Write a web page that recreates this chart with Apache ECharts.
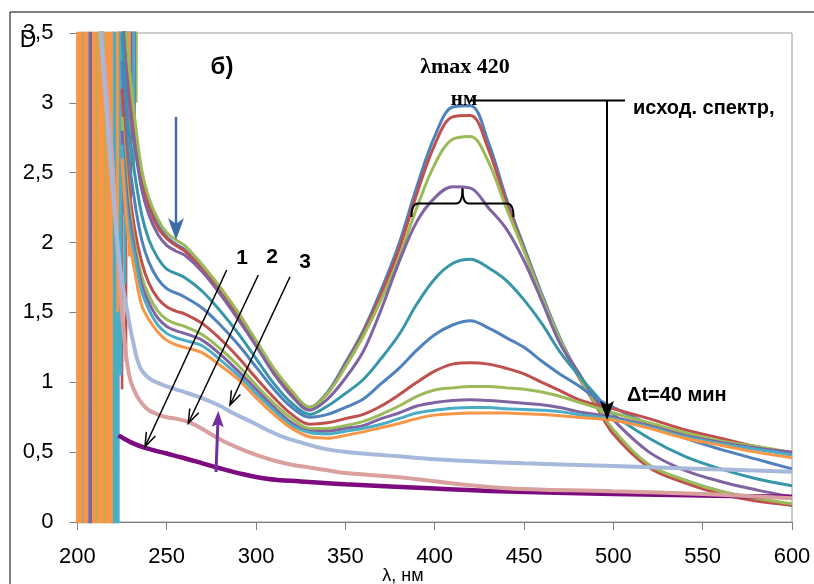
<!DOCTYPE html>
<html><head><meta charset="utf-8">
<script src="https://cdn.jsdelivr.net/npm/echarts@6.0.0/dist/echarts.min.js"></script>
<style>html,body{margin:0;padding:0;background:#fff}#c{width:814px;height:584px}</style>
</head><body><div id="c"></div>
<script>
// ---- data ----
const xTicks = [200, 250, 300, 350, 400, 450, 500, 550, 600];
const yTicks = [0, 0.5, 1, 1.5, 2, 2.5, 3, 3.5];
const wavelengths = [225,228,232,236,240,245,250,255,260,270,280,290,300,310,320,330,340,350,360,370,380,390,400,410,420,430,440,450,460,470,480,490,500,520,540,560,580,600];
const spectrum01 = [3.9,3.3,2.85,2.48,2.28,2.13,2.04,1.99,1.95,1.82,1.66,1.48,1.29,1.09,0.93,0.82,0.93,1.14,1.37,1.66,1.99,2.40,2.76,2.97,2.98,2.72,2.32,1.97,1.63,1.32,1.07,0.86,0.65,0.40,0.30,0.22,0.16,0.12];
const spectrum02 = [3.8,3.2,2.8,2.45,2.26,2.11,2.03,1.98,1.94,1.81,1.65,1.47,1.28,1.08,0.92,0.82,0.92,1.12,1.35,1.63,1.95,2.35,2.70,2.90,2.91,2.67,2.29,1.95,1.61,1.30,1.05,0.84,0.63,0.39,0.28,0.20,0.15,0.12];
const spectrum03 = [4.0,3.4,2.9,2.52,2.32,2.17,2.07,2.02,1.98,1.84,1.68,1.50,1.30,1.10,0.94,0.82,0.92,1.11,1.33,1.59,1.89,2.25,2.56,2.74,2.76,2.58,2.25,1.94,1.61,1.31,1.06,0.85,0.66,0.41,0.30,0.22,0.17,0.13];
const spectrum04 = [3.7,3.1,2.7,2.38,2.2,2.06,1.98,1.94,1.91,1.79,1.63,1.45,1.26,1.06,0.90,0.80,0.88,1.03,1.22,1.52,1.86,2.15,2.32,2.40,2.39,2.25,2.10,1.87,1.58,1.28,1.08,0.88,0.73,0.50,0.37,0.29,0.23,0.18];
const spectrum05 = [3.5,2.9,2.5,2.2,2.02,1.89,1.81,1.78,1.75,1.65,1.51,1.35,1.17,0.99,0.85,0.77,0.83,0.92,1.02,1.17,1.34,1.56,1.74,1.85,1.88,1.82,1.73,1.59,1.42,1.22,1.06,0.91,0.77,0.60,0.47,0.38,0.31,0.26];
const spectrum06 = [3.3,2.7,2.3,2.02,1.86,1.74,1.67,1.64,1.61,1.53,1.41,1.27,1.11,0.95,0.82,0.75,0.77,0.82,0.88,0.99,1.10,1.23,1.34,1.41,1.44,1.39,1.32,1.25,1.15,1.06,0.98,0.89,0.82,0.70,0.60,0.52,0.45,0.38];
const spectrum07 = [3.1,2.5,2.1,1.86,1.71,1.60,1.54,1.51,1.49,1.42,1.31,1.18,1.03,0.89,0.77,0.70,0.71,0.74,0.77,0.83,0.91,1.00,1.08,1.13,1.14,1.13,1.10,1.06,1.00,0.94,0.88,0.84,0.81,0.74,0.66,0.60,0.54,0.49];
const spectrum08 = [2.9,2.4,2.0,1.76,1.62,1.51,1.45,1.42,1.40,1.34,1.24,1.12,0.98,0.85,0.74,0.67,0.67,0.69,0.72,0.77,0.83,0.90,0.945,0.96,0.97,0.97,0.96,0.95,0.93,0.90,0.86,0.82,0.78,0.71,0.64,0.58,0.54,0.50];
const spectrum09 = [2.8,2.3,1.95,1.70,1.57,1.46,1.40,1.37,1.35,1.30,1.20,1.08,0.95,0.82,0.71,0.65,0.65,0.67,0.69,0.74,0.78,0.83,0.855,0.87,0.875,0.87,0.86,0.85,0.84,0.82,0.79,0.77,0.75,0.69,0.62,0.57,0.53,0.50];
const spectrum10 = [2.7,2.2,1.9,1.65,1.52,1.41,1.35,1.32,1.30,1.26,1.16,1.05,0.92,0.80,0.69,0.64,0.63,0.65,0.67,0.70,0.74,0.78,0.80,0.815,0.82,0.82,0.81,0.805,0.80,0.79,0.77,0.755,0.74,0.68,0.61,0.56,0.52,0.48];
const spectrum11 = [2.6,2.1,1.8,1.55,1.45,1.36,1.30,1.27,1.25,1.21,1.12,1.02,0.89,0.77,0.67,0.61,0.60,0.62,0.645,0.675,0.705,0.74,0.765,0.775,0.78,0.78,0.78,0.775,0.77,0.76,0.75,0.74,0.73,0.67,0.60,0.55,0.50,0.46];

// curves 1, 2, 3 (own wavelength grids)
const curve1X = [223,230,238,250,259,270,278,290,306,325,350,400,436,500,550,600];
const curve1Y = [0.62,0.57,0.53,0.49,0.46,0.42,0.39,0.35,0.31,0.29,0.27,0.24,0.22,0.20,0.19,0.18];
const curve2X = [212,214,217,220,222,224,226,228,230,233,236,240,246,250,255,260,265,270,280,290,300,310,320,330,340,350,380,436,500,550,600];
const curve2Y = [3.9,3.45,3.0,2.5,2.05,1.65,1.35,1.12,1.0,0.91,0.85,0.80,0.765,0.75,0.74,0.725,0.70,0.665,0.59,0.53,0.48,0.44,0.41,0.39,0.37,0.35,0.32,0.245,0.22,0.20,0.17];
const curve3X = [211,213,216,218,220,223,225,228,231,235,240,246,255,260,269,280,287,300,306,315,325,340,360,380,400,450,500,550,600];
const curve3Y = [3.9,3.5,3.0,2.65,2.35,1.92,1.72,1.50,1.30,1.11,1.03,0.99,0.95,0.93,0.89,0.83,0.78,0.70,0.66,0.61,0.57,0.52,0.49,0.47,0.45,0.42,0.40,0.38,0.36];

// off-scale noise below 235 nm: wavelengths of full-height stripes, and spikes [λ, lowest value]
const noiseStripes = {
  blue:   [206.0, 206.6, 219.6],
  red:    [],
  green:  [210.1, 210.7, 211.2, 215.1, 215.7, 216.2],
  purple: [207.3, 208.0],
  teal:   [202.8, 203.4, 220.0, 220.6, 221.2, 221.8, 222.4, 222.9],
  orange: [200.0, 200.7, 201.4, 202.1, 204.0, 204.7, 205.4, 208.9, 209.5, 211.7, 212.3, 212.9, 213.5, 214.1, 214.6, 216.7, 217.3, 217.9, 218.5, 219.1]
};
const noiseSpikes = {
  blue:   [[226.2, 2.6], [228.2, 2.4], [230.8, 2.9], [232.4, 3.1]],
  red:    [[225.0, 0.95], [227.2, 1.15], [229.8, 2.3]],
  green:  [[223.3, 1.9], [226.0, 2.5], [229.5, 3.0], [231.2, 2.8], [233.0, 3.0]],
  purple: [[223.7, 1.3], [225.5, 2.2], [227.7, 2.9], [230.2, 2.6], [232.0, 2.9]],
  teal:   [[224.4, 1.05], [226.6, 1.7], [228.7, 2.1], [231.6, 2.5]],
  orange: [[222.5, 1.5], [229.0, 1.9]]
};

// ---- styles ----
const C = {blue:'#4F81BD', red:'#C0504D', green:'#9BBB59', purple:'#8064A2', teal:'#4BACC6', teal2:'#3796A8', orange:'#F79646'};
const mainSpectra = [
  [spectrum01, C.blue], [spectrum02, C.red], [spectrum03, C.green], [spectrum04, C.purple],
  [spectrum05, C.teal2], [spectrum06, C.blue], [spectrum07, C.red], [spectrum08, C.green],
  [spectrum09, C.purple], [spectrum10, C.teal], [spectrum11, C.orange]
];
const OFF_HIGH = 4.6, OFF_LOW = -1;

function noiseData(stripes, spikes) {
  const items = stripes.map(l => ({l, full:true})).concat(spikes.map(s => ({l:s[0], v:s[1]})));
  items.sort((a,b)=>a.l-b.l);
  const pts = [];
  items.forEach(it => {
    if (it.full) { pts.push([it.l, OFF_HIGH],[it.l, OFF_LOW],[it.l+0.12, OFF_LOW],[it.l+0.12, OFF_HIGH]); }
    else { pts.push([it.l-0.25, OFF_HIGH],[it.l, it.v],[it.l+0.25, OFF_HIGH]); }
  });
  return pts;
}
const zip = (xs, ys) => xs.map((x,i)=>[x, ys[i]]);

const series = [];
['blue','red','green','purple','teal','orange'].forEach(k => {
  series.push({type:'line', data:noiseData(noiseStripes[k], noiseSpikes[k]), showSymbol:false, smooth:false,
    lineStyle:{width:2.6, color:C[k]}, itemStyle:{color:C[k]}, silent:true, clip:true});
});
mainSpectra.forEach(([vals, col]) => {
  series.push({type:'line', data:zip(wavelengths, vals), showSymbol:false, smooth:0.35,
    lineStyle:{width:3, color:col}, itemStyle:{color:col}, silent:true, clip:true});
});
series.push({type:'line', data:zip(curve1X, curve1Y), showSymbol:false, smooth:0.4, lineStyle:{width:4.5, color:'#7D0B7F'}, silent:true, clip:true});
series.push({type:'line', data:zip(curve2X, curve2Y), showSymbol:false, smooth:0.4, lineStyle:{width:4, color:'#D9A09D'}, silent:true, clip:true});
series.push({type:'line', data:zip(curve3X, curve3Y), showSymbol:false, smooth:0.4, lineStyle:{width:4, color:'#A6B9DA'}, silent:true, clip:true});

// ---- annotation helpers (pixel geometry) ----
function headPts(x1,y1,x2,y2,len,hw,notch){
  const dx=x2-x1, dy=y2-y1, L=Math.hypot(dx,dy), ux=dx/L, uy=dy/L, px=-uy, py=ux;
  const bx=x2-ux*len, by=y2-uy*len;
  const pts=[[bx+px*hw,by+py*hw],[x2,y2],[bx-px*hw,by-py*hw]];
  if (notch!=null) pts.push([x2-ux*(len-notch), y2-uy*(len-notch)]);
  return pts;
}
function openArrow(x1,y1,x2,y2,color,w){
  return [
    {type:'line', shape:{x1,y1,x2,y2}, style:{stroke:color, lineWidth:w}, z:100},
    {type:'polyline', shape:{points:headPts(x1,y1,x2,y2,14,5)}, style:{stroke:color, lineWidth:w, fill:null}, z:100}
  ];
}
function solidArrow(x1,y1,x2,y2,color,w,len,hw,notch){
  const L=Math.hypot(x2-x1,y2-y1), ux=(x2-x1)/L, uy=(y2-y1)/L;
  return [
    {type:'line', shape:{x1,y1,x2:x2-ux*(len-notch), y2:y2-uy*(len-notch)}, style:{stroke:color, lineWidth:w}, z:100},
    {type:'polygon', shape:{points:headPts(x1,y1,x2,y2,len,hw,notch)}, style:{fill:color, stroke:null}, z:100}
  ];
}
function label(x,y,text,font,align){
  return {type:'text', x, y, z:110, style:{text, font, fill:'#000', align:align||'center', verticalAlign:'middle'}};
}
function seg(x1,y1,x2,y2){ return {type:'line', z:100, shape:{x1,y1,x2,y2}, style:{stroke:'#000', lineWidth:2}}; }
function quad(x1,y1,cpx1,cpy1,x2,y2){ return {type:'bezierCurve', z:100, shape:{x1,y1,cpx1,cpy1,x2,y2}, style:{stroke:'#000', lineWidth:2, fill:null}}; }

const graphic = [
  {type:'line', shape:{x1:10,y1:12,x2:814,y2:12}, style:{stroke:'#000', lineWidth:1}, z:100},
  {type:'line', shape:{x1:10,y1:12,x2:10,y2:584}, style:{stroke:'#000', lineWidth:1}, z:100},
  label(28, 41, 'D', '23px "Liberation Sans"'),
  label(222, 67, 'б)', 'bold 24px "Liberation Sans"'),
  label(465, 67, 'λmax 420', 'bold 22px "Liberation Serif"'),
  label(464, 100, 'нм', 'bold 21px "Liberation Serif"'),
  label(633, 108, 'исход. спектр,', 'bold 20px "Liberation Sans"', 'left'),
  label(627, 395, 'Δt=40 мин', 'bold 20px "Liberation Sans"', 'left'),
  label(242, 258, '1', 'bold 21px "Liberation Sans"'),
  label(272, 257, '2', 'bold 21px "Liberation Sans"'),
  label(305, 262, '3', 'bold 21px "Liberation Sans"'),
  label(403, 576, 'λ, нм', '18px "Liberation Sans"'),
  seg(470,100.5,625,100.5),
  quad(411.5,217, 411.5,203.5, 418,203.5),
  seg(418,203.5,456,203.5),
  quad(456,203.5, 462.5,203.5, 462.5,188.5),
  quad(462.5,188.5, 462.5,203.5, 469,203.5),
  seg(469,203.5,507,203.5),
  quad(507,203.5, 513.5,203.5, 513.5,217)
].concat(
  solidArrow(607,100,607,420,'#000',2,19,7,4),
  solidArrow(176,117,176,240,'#3D6CA6',2.5,22,8,6),
  solidArrow(216,472,218.3,411,'#7030A0',3,16,6,3),
  openArrow(226.7,270,145,446.7,'#000',1.5),
  openArrow(258.3,275,188.3,423.3,'#000',1.5),
  openArrow(290,276.7,230,405,'#000',1.5)
);

const chart = echarts.init(document.getElementById('c'), null, {renderer:'canvas'});
chart.setOption({
  animation:false,
  backgroundColor:'#fff',
  grid:{left:77.4, right:22, top:33, bottom:62, show:true, borderColor:'#9a9a9a', borderWidth:1, backgroundColor:'transparent'},
  xAxis:{type:'value', min:xTicks[0], max:xTicks[xTicks.length-1], interval:50,
    axisLine:{show:true, onZero:false, lineStyle:{color:'#7f7f7f', width:1}},
    axisTick:{show:true, inside:false, length:8, lineStyle:{color:'#7f7f7f'}},
    axisLabel:{fontSize:22, fontFamily:'Liberation Sans', color:'#000', margin:24},
    splitLine:{show:false}},
  yAxis:{type:'value', min:yTicks[0], max:yTicks[yTicks.length-1], interval:0.5,
    axisLine:{show:true, lineStyle:{color:'#7f7f7f', width:1}},
    axisTick:{show:true, inside:false, length:8, lineStyle:{color:'#7f7f7f'}},
    axisLabel:{fontSize:22, fontFamily:'Liberation Sans', color:'#000', margin:24,
      formatter: v => String(v).replace('.', ',')},
    splitLine:{show:false}},
  series,
  graphic
});
</script>
</body></html>
